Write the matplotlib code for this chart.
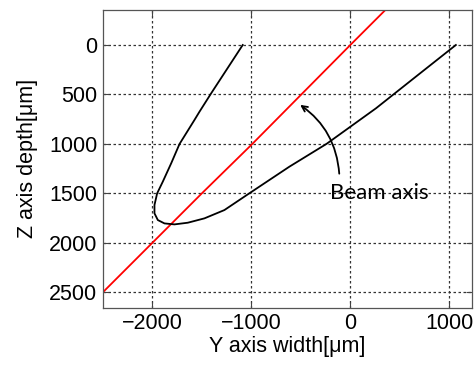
import matplotlib.pyplot as plt
import numpy as np

# black loop (Y width, Z depth) in um
loop_y = [-1088, -1407, -1525, -1576, -1727, -1811, -1896, -1953, -1980, -1980,
          -1946, -1879, -1778, -1643, -1475, -1273, -1020, -616, -240, 260,
          663, 1067]
loop_z = [0, 489, 675, 759, 1002, 1197, 1383, 1501, 1619, 1703,
          1771, 1805, 1815, 1798, 1754, 1670, 1500, 1231, 1000, 640,
          320, 0]

# beam axis (red)
beam_y = [-2500, -2000, -1500, -1000, -500, 0, 360]
beam_z = [2500, 2000, 1500, 1010, 505, 0, -360]

xticks = [-2000, -1000, 0, 1000]
yticks = [0, 500, 1000, 1500, 2000, 2500]

plt.rcParams['font.family'] = ['Liberation Sans', 'DejaVu Sans']

fig = plt.figure(figsize=(4.77, 3.67), dpi=100)
ax = fig.add_axes([0.216, 0.161, 0.7735, 0.812])

ax.plot(beam_y, beam_z, color='red', lw=1.3)
ax.plot(loop_y, loop_z, color='black', lw=1.3)

ax.set_xlim(-2500, 1230)
ax.set_ylim(2660, -355)
ax.set_xticks(xticks)
ax.set_yticks(yticks)
ax.grid(True, linestyle=(0, (2, 2)), color='#333333', lw=0.9)
ax.tick_params(direction='in', labelsize=15.5, length=4, top=True, right=True,
               color='#444444', pad=4)
for s in ax.spines.values():
    s.set_color('#555555')
    s.set_linewidth(0.9)

ax.set_xlabel('Y axis width[μm]', fontsize=15.5, labelpad=1)
ax.set_ylabel('Z axis depth[μm]', fontsize=15.5, labelpad=8)

ax.annotate('', xy=(-530, 590), xytext=(-110, 1330),
            arrowprops=dict(arrowstyle='->', color='black', lw=1.3,
                            connectionstyle='arc3,rad=0.25'))
ax.text(290, 1500, 'Beam axis', fontsize=16, family='Lato', ha='center', va='center')

fig.savefig('out.png', dpi=100)
